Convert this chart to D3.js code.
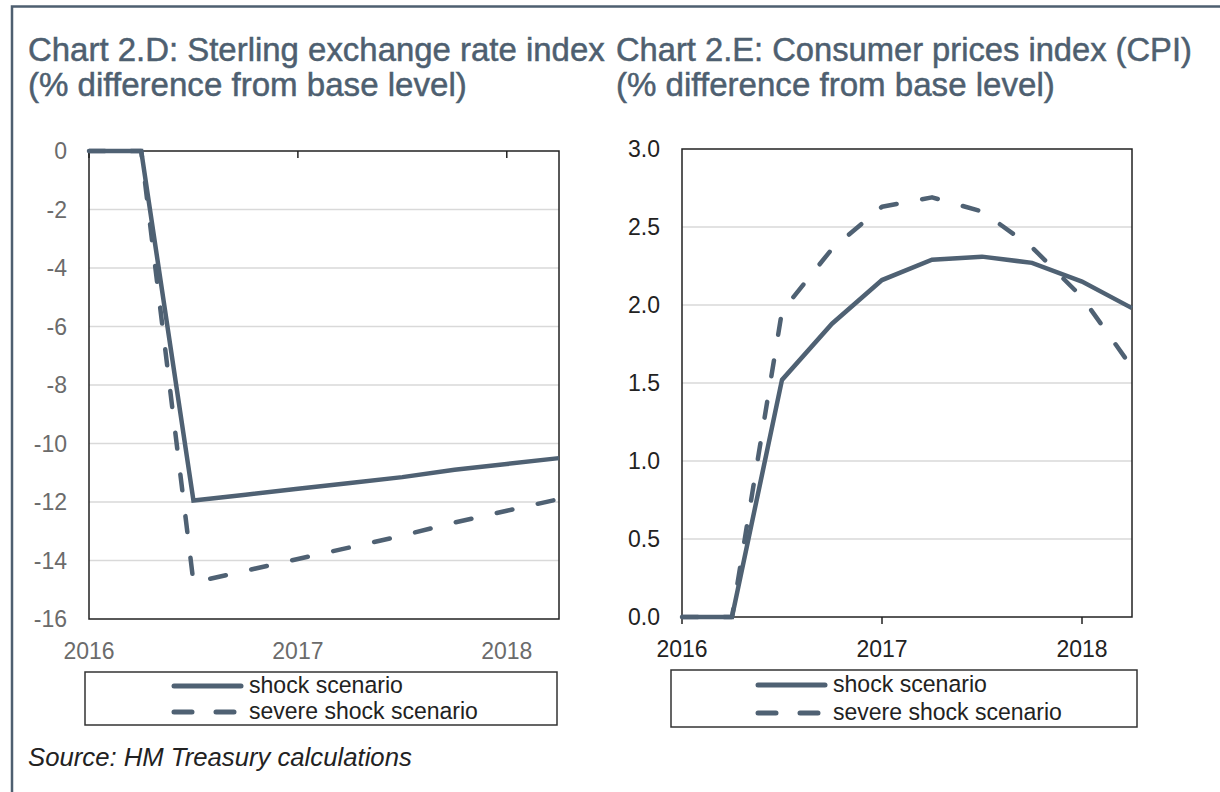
<!DOCTYPE html>
<html><head><meta charset="utf-8">
<script src="https://cdn.jsdelivr.net/npm/d3@7"></script>
<style>body{margin:0;background:#fff}svg{display:block}</style>
</head><body>
<svg id="c" width="1220" height="792"></svg>
<script>
// ---------- data ----------
const quarters = ["2016 Q1","2016 Q2","2016 Q3","2016 Q4","2017 Q1","2017 Q2","2017 Q3","2017 Q4","2018 Q1","2018 Q2"];
const yearTicks = [0, 4, 8];
const yearLabels = ["2016", "2017", "2018"];
const seriesNames = ["shock scenario", "severe shock scenario"];

const erShock  = [0, 0, -11.95, -11.75, -11.55, -11.35, -11.15, -10.9, -10.7, -10.5];
const erSevere = [0, 0, -14.75, -14.35, -13.95, -13.55, -13.15, -12.7, -12.3, -11.9];
const erTicks  = [0, -2, -4, -6, -8, -10, -12, -14, -16];

const cpiShock  = [0, 0, 1.52, 1.88, 2.16, 2.29, 2.31, 2.27, 2.15, 1.98];
const cpiSevere = [0, 0, 1.96, 2.36, 2.63, 2.69, 2.60, 2.37, 2.05, 1.60];
const cpiTicks  = [0, 0.5, 1.0, 1.5, 2.0, 2.5, 3.0];

const titleD = ["Chart 2.D: Sterling exchange rate index", "(% difference from base level)"];
const titleE = ["Chart 2.E: Consumer prices index (CPI)", "(% difference from base level)"];
const sourceText = "Source: HM Treasury calculations";

// ---------- styles ----------
const LINE = "#4f6173", TITLE = "#4e5f70", FONT = "'Liberation Sans', Arial, sans-serif";
const svg = d3.select("#c");

function fit(sel, w) {
  const n = sel.node(); const cur = +sel.attr("font-size"); const l = n.getComputedTextLength();
  sel.attr("font-size", cur * w / l);
}

// outer frame
svg.append("rect").attr("x", 12).attr("y", 6.5).attr("width", 1240).attr("height", 820)
  .attr("fill", "none").attr("stroke", TITLE).attr("stroke-width", 2.5);

// titles
function title(lines, x, widths) {
  lines.forEach((t, i) => {
    const s = svg.append("text").attr("x", x).attr("y", 61 + i * 35).attr("fill", TITLE)
      .attr("font-family", FONT).attr("font-size", 31).attr("stroke", TITLE).attr("stroke-width", 0.5)
      .text(t);
    fit(s, widths[i]);
  });
}
title(titleD, 28, [577, 439]);
title(titleE, 616, [576, 439]);

// source
fit(svg.append("text").attr("x", 28).attr("y", 766).attr("font-family", FONT).attr("font-style", "italic")
  .attr("font-size", 22).attr("fill", "#222").text(sourceText), 384);

function panel(cfg) {
  const x = d3.scaleLinear().domain([0, quarters.length - 1]).range([cfg.x0, cfg.x1]);
  const y = d3.scaleLinear().domain(cfg.domain).range([cfg.y1, cfg.y0]);
  const g = svg.append("g");
  // gridlines
  g.selectAll(".grid").data(cfg.ticks.filter(t => t !== cfg.domain[0] && t !== cfg.domain[1]))
    .join("line").attr("x1", cfg.x0).attr("x2", cfg.x1).attr("y1", d => y(d)).attr("y2", d => y(d))
    .attr("stroke", "#d9d9d9").attr("stroke-width", 1.5);
  // y labels
  g.selectAll(".yl").data(cfg.ticks).join("text")
    .attr("x", cfg.x0 - 22).attr("y", d => y(d)).attr("dy", "0.36em").attr("text-anchor", "end")
    .attr("font-family", FONT).attr("font-size", 23).attr("fill", cfg.labelColor)
    .text(d => cfg.fmt(d));
  // x labels
  g.selectAll(".xl").data(yearTicks).join("text")
    .attr("x", d => x(d)).attr("y", cfg.xLabelY).attr("text-anchor", "middle")
    .attr("font-family", FONT).attr("font-size", 23).attr("fill", cfg.labelColor)
    .text((d, i) => yearLabels[i]);
  // box
  g.append("rect").attr("x", cfg.x0).attr("y", cfg.y0).attr("width", cfg.x1 - cfg.x0).attr("height", cfg.y1 - cfg.y0)
    .attr("fill", "none").attr("stroke", "#222").attr("stroke-width", 1.5);
  // x ticks
  const ay = y(0);
  g.selectAll(".xt").data(yearTicks).join("line")
    .attr("x1", d => x(d)).attr("x2", d => x(d)).attr("y1", ay).attr("y2", ay + cfg.tickLen)
    .attr("stroke", "#222").attr("stroke-width", 1.5);
  const line = d3.line().x((d, i) => x(i)).y(d => y(d));
  g.append("path").attr("d", line(cfg.severe)).attr("fill", "none").attr("stroke", LINE)
    .attr("stroke-width", 4.5).attr("stroke-dasharray", "16,26").attr("stroke-linecap", "round").attr("stroke-linejoin", "round");
  g.append("path").attr("d", line(cfg.shock)).attr("fill", "none").attr("stroke", LINE)
    .attr("stroke-width", 4.5).attr("stroke-linejoin", "miter");
  // legend
  const L = cfg.legend;
  g.append("rect").attr("x", L.x0).attr("y", L.y0).attr("width", L.x1 - L.x0).attr("height", L.y1 - L.y0)
    .attr("fill", "none").attr("stroke", "#333").attr("stroke-width", 1.5);
  seriesNames.forEach((n, i) => {
    const ly = L.rows[i];
    g.append("line").attr("x1", L.lx0).attr("x2", L.lx1).attr("y1", ly).attr("y2", ly)
      .attr("stroke", LINE).attr("stroke-width", 5).attr("stroke-linecap", "round")
      .attr("stroke-dasharray", i ? "18,24" : null);
    fit(g.append("text").attr("x", L.tx).attr("y", ly + 7).attr("font-family", FONT).attr("font-size", 22)
      .attr("fill", "#222").text(n), i ? 229 : 154);
  });
}

panel({x0: 89, x1: 559, y0: 151, y1: 619, domain: [-16, 0], ticks: erTicks, fmt: d => String(d),
  shock: erShock, severe: erSevere, labelColor: "#6b6b6b", xLabelY: 659, tickLen: 7,
  legend: {x0: 85, x1: 557, y0: 672, y1: 725, lx0: 174, lx1: 241, tx: 249, rows: [686, 712]}});

panel({x0: 682, x1: 1132, y0: 149, y1: 617, domain: [0, 3], ticks: cpiTicks, fmt: d => d.toFixed(1),
  shock: cpiShock, severe: cpiSevere, labelColor: "#222", xLabelY: 657, tickLen: 7,
  legend: {x0: 671, x1: 1137, y0: 670, y1: 727, lx0: 758, lx1: 825, tx: 833, rows: [685, 713]}});
</script>
</body></html>
